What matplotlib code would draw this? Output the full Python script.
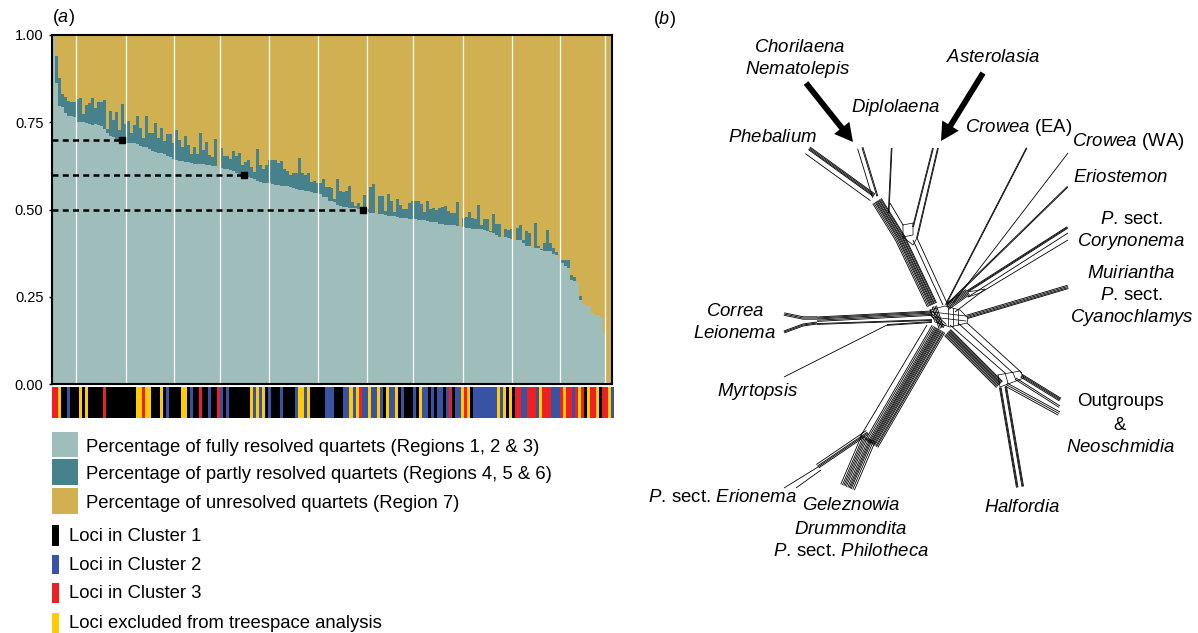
import numpy as np
import matplotlib
matplotlib.use("Agg")
import matplotlib.pyplot as plt
from matplotlib.patches import Rectangle

plt.rcParams["font.family"] = ["Liberation Sans", "DejaVu Sans"]
plt.rcParams["mathtext.fontset"] = "custom"
plt.rcParams["mathtext.rm"] = "Liberation Sans"
plt.rcParams["mathtext.it"] = "Liberation Sans:italic"

# colours
light = "#9fbdbb"
dark = "#47818c"
gold = "#d1b052"
cluster_colors = {"K": "#000000", "B": "#3953a4", "R": "#ee2024", "Y": "#ffcb05"}

# quartets per locus
fully = [1.0, .863, .797, .793, .776, .768, .767, .766, .752, .752, .752, .749, .745, .742, .744, .741,
         .739, .731, .718, .711, .707, .702, .699, .695, .691, .691, .691, .690, .688, .682, .680, .678,
         .672, .669, .666, .663, .661, .659, .653, .650, .644, .642, .639, .639, .637, .637, .632, .631,
         .630, .630, .629, .628, .627, .626, .625, .623, .618, .617, .615, .613, .609, .605, .602, .599,
         .596, .592, .589, .586, .583, .579, .577, .576, .576, .572, .570, .569, .568, .568, .567, .565,
         .562, .559, .556, .555, .553, .552, .550, .548, .546, .545, .537, .537, .524, .523, .522,
         .513, .510, .508, .507, .505, .505, .503, .502, .499, .496, .492, .491, .490, .489, .488, .487,
         .484, .481, .481, .480, .478, .476, .476, .475, .473, .473, .473, .470, .470, .470, .467, .464,
         .464, .464, .458, .458, .456, .456, .456, .456, .453, .451, .450, .448, .447, .445, .444, .444,
         .444, .441, .438, .435, .432, .427, .421, .421, .421, .418, .415, .412, .412, .412, .404, .395,
         .395, .389, .390, .390, .384, .381, .381, .381, .372, .369, .360, .346, .338, .332, .298, .295,
         .288, .241, .229, .224, .224, .203, .198, .198, .190, .146, 0, 0]
resolved = [1.0, .940, .876, .831, .822, .811, .808, .808, .817, .820, .774, .798, .805, .819, .791, .808,
            .808, .814, .731, .782, .756, .779, .728, .802, .745, .754, .718, .742, .768, .733, .706, .768,
            .718, .718, .748, .704, .733, .696, .716, .716, .691, .728, .699, .680, .711, .685, .659, .680,
            .659, .719, .671, .694, .656, .651, .702, .623, .677, .653, .653, .645, .668, .653, .663, .628,
            .637, .642, .621, .608, .673, .628, .616, .628, .642, .642, .642, .632, .640, .616, .610, .599,
            .606, .606, .648, .604, .598, .604, .578, .582, .575, .575, .587, .565, .565, .563, .530,
            .587, .553, .550, .553, .567, .521, .510, .519, .499, .541, .501, .564, .573, .490, .539, .539,
            .496, .544, .524, .493, .530, .513, .501, .501, .519, .524, .524, .524, .516, .493, .524, .501,
            .504, .499, .504, .507, .510, .496, .490, .490, .521, .451, .476, .479, .493, .476, .473, .513,
            .456, .473, .473, .438, .487, .458, .458, .421, .444, .441, .444, .412, .447, .456, .412, .438,
            .433, .389, .461, .395, .387, .404, .441, .404, .390, .378, .360, .355, .355, .355, .312, .307,
            .288, .252, .229, .224, .224, .203, .198, .198, .190, .146, 0, 0]

# cluster strip under the bars, colour code and run length
strip_runs = ("R2 Y1 K2 B1 K3 Y1 K1 Y1 K5 R1 K10 Y2 R1 Y2 K3 Y1 K1 B1 K4 Y2 K1 B1 K2 R1 K2 B1 K2 R1 B1 K1 B1 K7 "
              "Y1 B1 Y1 B1 Y1 K1 B1 K3 B1 K4 B1 Y2 B1 Y1 K5 B3 "
              "K3 B2 Y1 B1 Y1 R1 B2 Y1 B2 Y1 B1 K1 Y1 B2 Y1 K1 B1 K3 B1 K1 Y1 B2 K1 B1 K1 B2 K1 B1 R1 K1 B2 "
              "Y1 R1 Y1 K1 B8 Y1 B1 Y1 K1 Y1 K1 R2 B2 R3 B1 Y1 R3 B3 R1 Y1 R2 B1 R1 Y1 R1 K1 Y1 R2 Y1 K1 R2 Y1 B1")

yticks = [0, 0.25, 0.5, 0.75, 1.0]
white_lines = [7.6, 24.1, 40.4, 55.6, 72.1, 88.4, 104.6, 120, 136.6, 153, 169.2, 184.2]
cutoffs = [0.7, 0.6, 0.5]
cutoff_ends = [23, 63.5, 103.5]

# strand spacing for the wide bundles
wide = [-5, -4.1, -2.9, -2.1, -.9, 0, 1.2, 2.2, 3.6, 5]

# network branches: path through the picture, strand offsets
branches = [
    ([(808, 150), (873, 197)], [-3.6, -2.6, -1.5, -.6, 4.5]),
    ([(860, 148), (875, 197)], [-3, -2, 2.5]),
    ([(892, 148), (889, 213)], [0, .7]),
    ([(933, 148), (913, 227)], [-.4, .4]),
    ([(938, 148), (917, 238)], [-.4, .4]),
    ([(877, 201), (900, 238), (932, 305)], wide),
    ([(913, 240), (943, 305)], [0]),
    ([(917, 238), (947, 303)], [0]),
    ([(890, 203), (903, 225)], [0]),
    ([(1027, 148), (947, 303)], [0, .7]),
    ([(1068, 153), (953, 303)], [0]),
    ([(1068, 187), (947, 305)], [0, .9]),
    ([(1068, 228), (968, 292)], [0, .8, 1.6]),
    ([(1068, 233), (968, 297)], [0]),
    ([(1068, 240), (980, 293)], [0]),
    ([(968, 292), (947, 307)], [-3, -1.7, -.5, .8, 2, 3.2]),
    ([(980, 293), (955, 312)], [0]),
    ([(1068, 287), (967, 317)], [-1.6, -.6, .6, 1.8]),
    ([(817, 319), (932, 313)], [-2, -1, 0, 1.2, 2.4]),
    ([(817, 324), (932, 320)], [-.4, .4]),
    ([(784, 314), (803, 318), (817, 318)], [-1.2, 0, 1.2]),
    ([(784, 332), (803, 325), (817, 323)], [-1, 0, 1]),
    ([(784, 377), (887, 325)], [0]),
    ([(887, 325), (932, 322)], [-.4, .4]),
    ([(927, 325), (860, 437)], [0]),
    ([(937, 328), (870, 443)], [-9, -7.6, -6.6, -5.2, -4.2, -3, -2, -.9, 0, 1.2, 2.4, 4, 5.6]),
    ([(868, 438), (847, 487)], [-8, -6.2, -4.6, -3.4, -2.2, -.8, .8, 2.2, 3.6, 5, 6.8]),
    ([(868, 433), (818, 467)], [-1.2, 0, 1.1, 3]),
    ([(818, 467), (784, 488)], [0]),
    ([(821, 470), (796, 488)], [0]),
    ([(947, 333), (999, 385)], [-5, -4, -3, -2, -1, 0, 1.2, 2.4, 3.6]),
    ([(950, 325), (1005, 373)], [0]),
    ([(958, 323), (1013, 373)], [0]),
    ([(967, 323), (1022, 373)], [0]),
    ([(1021, 376), (1060, 400)], [-2, -1, 0, 1.1]),
    ([(1016, 378), (1060, 406)], [0, 1.6]),
    ([(1007, 383), (1060, 412)], [0, 1.8, 3.6]),
    ([(1003, 387), (1020, 487)], [-3.6, -2.8, -2, 2, 2.8, 3.6]),
    ([(935, 306), (942, 328)], [-1.5, 0, 1.5, 3]),
    ([(930, 312), (945, 326)], [-2, 0, 2]),
]
boxes = [
    [(903, 225), (913, 223), (913, 235), (903, 237), (903, 225)],
    [(903, 237), (913, 245), (917, 238)],
    [(930, 310), (945, 306), (960, 310), (968, 318), (967, 323), (950, 327), (935, 322), (930, 310)],
    [(948, 308), (948, 326)], [(953, 308), (953, 326)], [(958, 310), (958, 325)],
    [(932, 312), (966, 316)], [(932, 317), (966, 321)],
    [(968, 292), (985, 289), (980, 293), (968, 297)],
    [(998, 375), (1020, 371), (1024, 378), (1000, 387), (998, 375)],
    [(1005, 373), (1008, 383)], [(1013, 373), (1016, 380)],
]

labels = [
    ("$\\it{Chorilaena}$", 800, 48), ("$\\it{Nematolepis}$", 798, 69),
    ("$\\it{Asterolasia}$", 993, 58), ("$\\it{Diplolaena}$", 896, 108),
    ("$\\it{Phebalium}$", 773, 138), ("$\\it{Crowea}$ (EA)", 1019, 127),
    ("$\\it{Crowea}$ (WA)", 1128, 142), ("$\\it{Eriostemon}$", 1121, 178),
    ("$\\it{P.}\\,$sect.", 1131, 220), ("$\\it{Corynonema}$", 1131, 241),
    ("$\\it{Muiriantha}$", 1131, 273), ("$\\it{P.}\\,$sect.", 1131, 295),
    ("$\\it{Cyanochlamys}$", 1132, 317), ("$\\it{Correa}$", 735, 312),
    ("$\\it{Leionema}$", 735, 334), ("$\\it{Myrtopsis}$", 758, 391),
    ("Outgroups", 1121, 402), ("&", 1120, 425),
    ("$\\it{Neoschmidia}$", 1121, 447), ("$\\it{Halfordia}$", 1022, 508),
    ("$\\it{P.}\\,$sect. $\\it{Erionema}$", 722, 498), ("$\\it{Geleznowia}$", 851, 506),
    ("$\\it{Drummondita}$", 851, 529), ("$\\it{P.}\\,$sect. $\\it{Philotheca}$", 851, 551),
]
legend_bars = [(light, "Percentage of fully resolved quartets (Regions 1, 2 & 3)", 432, 457),
               (dark, "Percentage of partly resolved quartets (Regions 4, 5 & 6)", 459, 485),
               (gold, "Percentage of unresolved quartets (Region 7)", 488, 514)]
legend_loci = [("K", "Loci in Cluster 1", 525, 546), ("B", "Loci in Cluster 2", 555, 574),
               ("R", "Loci in Cluster 3", 583, 603), ("Y", "Loci excluded from treespace analysis", 613, 633)]

W, H = 1198, 633
fig = plt.figure(figsize=(W / 100, H / 100), dpi=100)


def axes_px(x0, y0, x1, y1):
    return fig.add_axes([x0 / W, 1 - y1 / H, (x1 - x0) / W, (y1 - y0) / H])


# panel a bars
ax = axes_px(52, 35, 612, 384)
idx = np.arange(len(fully))
fully = np.array(fully)
resolved = np.array(resolved)
ax.bar(idx, fully, width=1, color=light, linewidth=0, antialiased=False)
ax.bar(idx, resolved - fully, bottom=fully, width=1, color=dark, linewidth=0, antialiased=False)
ax.bar(idx, 1 - resolved, bottom=resolved, width=1, color=gold, linewidth=0, antialiased=False)
for x in white_lines:
    ax.axvline(x, color="white", lw=0.9)
for v, e in zip(cutoffs, cutoff_ends):
    ax.plot([-0.5, e], [v, v], color="black", lw=1.8, dashes=(2.4, 1.7))
    ax.plot([e], [v], "s", color="black", ms=4.2)
ax.set_xlim(-0.5, len(fully) - 0.5)
ax.set_ylim(0, 1)
ax.set_xticks([])
ax.set_yticks(yticks)
ax.set_yticklabels(["%.2f" % t for t in yticks], fontsize=10.5)
ax.tick_params(axis="y", length=2.5, width=1, pad=3.7)
for s in ax.spines.values():
    s.set_linewidth(1.5)

# cluster strip
sax = axes_px(52, 387, 614, 418)
codes = "".join(r[0] * int(r[1:]) for r in strip_runs.split())
sax.bar(np.arange(len(codes)), np.ones(len(codes)), width=1.02,
        color=[cluster_colors[c] for c in codes], linewidth=0, antialiased=False)
sax.set_xlim(-0.5, len(codes) - 0.5)
sax.set_ylim(0, 1)
sax.axis("off")

# everything else goes on a pixel overlay
ov = fig.add_axes([0, 0, 1, 1])
ov.set_xlim(0, W)
ov.set_ylim(H, 0)
ov.axis("off")
ov.patch.set_alpha(0)

ov.text(52, 18, "($\\it{a}$)", fontsize=13, va="center")
ov.text(653, 19, "($\\it{b}$)", fontsize=13, va="center")

for c, t, y0, y1 in legend_bars:
    ov.add_patch(Rectangle((52, y0), 26, y1 - y0, color=c, lw=0))
    ov.text(86, (y0 + y1) / 2 + 2.5, t, fontsize=13.3, va="center")
for c, t, y0, y1 in legend_loci:
    ov.add_patch(Rectangle((52, y0), 7, y1 - y0, color=cluster_colors[c], lw=0))
    ov.text(69, (y0 + y1) / 2 + 1, t, fontsize=13.3, va="center")


# draw a branch as parallel strands along its path
def bundle(points, offsets):
    pts = np.array(points, float)
    seg = np.diff(pts, axis=0)
    seg = seg / np.hypot(seg[:, 0], seg[:, 1])[:, None]
    tang = np.vstack([seg[0], seg[:-1] + seg[1:], seg[-1]]) if len(seg) > 1 else np.vstack([seg[0], seg[0]])
    tang = tang / np.hypot(tang[:, 0], tang[:, 1])[:, None]
    norm = np.column_stack([-tang[:, 1], tang[:, 0]])
    for o in offsets:
        ov.plot(pts[:, 0] + norm[:, 0] * o, pts[:, 1] + norm[:, 1] * o,
                color="black", lw=0.6, solid_capstyle="butt")


for path, offs in branches:
    bundle(path, offs)
for b in boxes:
    ov.plot([q[0] for q in b], [q[1] for q in b], color="black", lw=0.5)

ov.annotate("", xy=(853, 142), xytext=(806, 83),
            arrowprops=dict(width=4.2, headwidth=14, headlength=13, color="black", shrink=0, lw=0))
ov.annotate("", xy=(941, 141), xytext=(983, 73),
            arrowprops=dict(width=4.2, headwidth=14, headlength=13, color="black", shrink=0, lw=0))

for t, x, y in labels:
    ov.text(x, y, t, fontsize=13.4, ha="center", va="center")

fig.savefig("out.png", dpi=100)
